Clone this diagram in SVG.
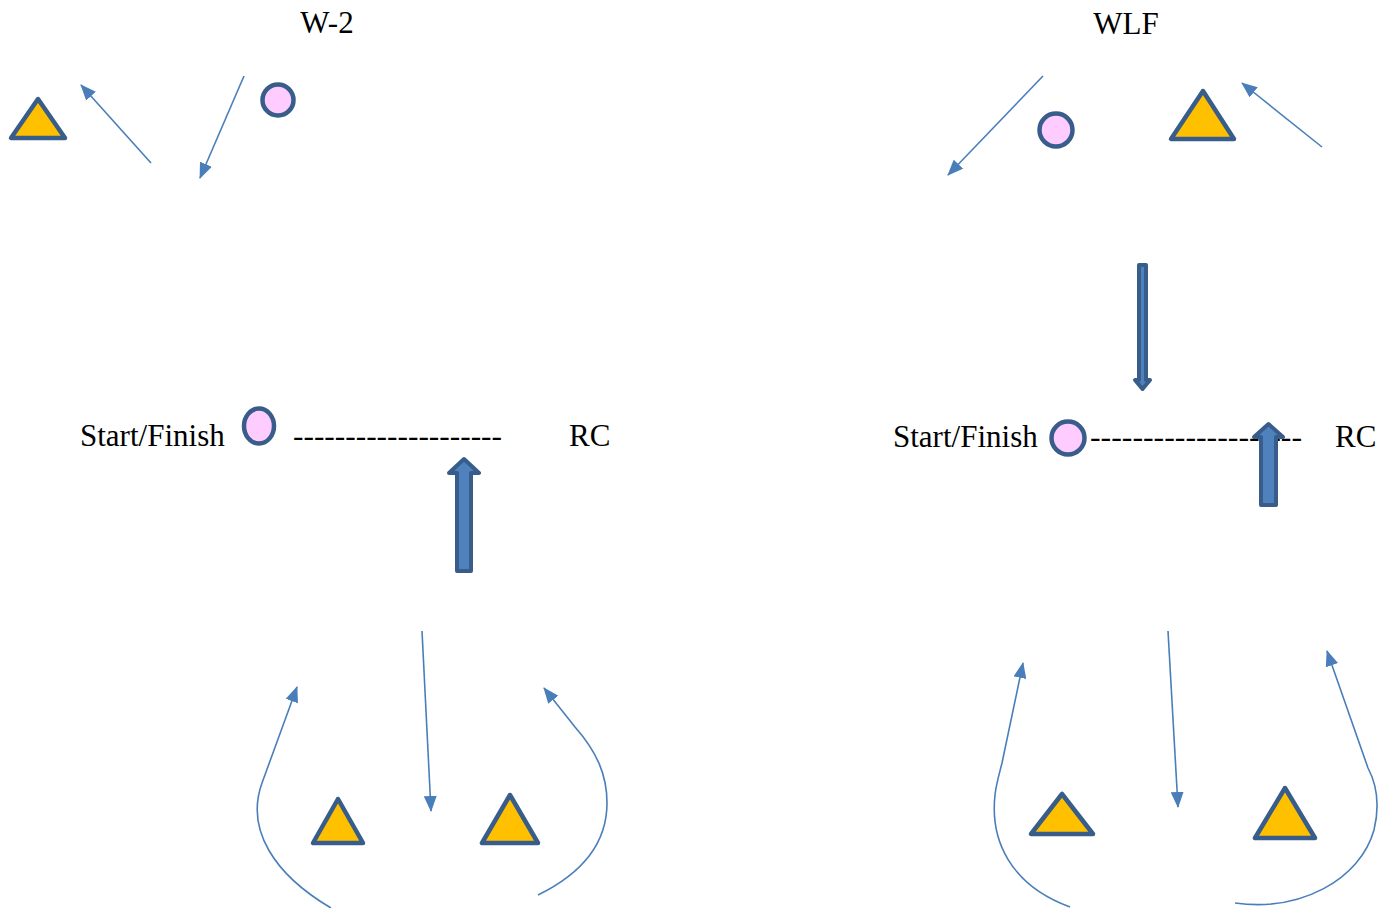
<svg xmlns="http://www.w3.org/2000/svg" width="1382" height="908" viewBox="0 0 1382 908">
<style>
.t{font-family:"Liberation Serif","Times New Roman",serif;font-size:31px;fill:#000}
.tri{fill:#FFC000;stroke:#385D8A;stroke-width:4.5;stroke-linejoin:round}
.dot{fill:#FFCCFF;stroke:#385D8A;stroke-width:4.5}
.blk{fill:#4F81BD;stroke:#385D8A;stroke-width:4;stroke-linejoin:round}
.ln{fill:none;stroke:#4A7EBB;stroke-width:1.6}
</style>
<defs>
<marker id="ah" viewBox="0 0 16 13" markerWidth="16" markerHeight="13" refX="15" refY="6.5" orient="auto" markerUnits="userSpaceOnUse">
<path d="M0,0 L16,6.5 L0,13 z" fill="#4A7EBB"/>
</marker>
</defs>
<rect width="1382" height="908" fill="#fff"/>
<g id="titles">
<text class="t" x="327" y="33" text-anchor="middle">W-2</text>
<text class="t" x="1126" y="34" text-anchor="middle">WLF</text>
</g>
<g id="labels">
<text class="t" x="80" y="446">Start/Finish</text>
<text class="t" x="293" y="446" textLength="209" lengthAdjust="spacingAndGlyphs">--------------------</text>
<text class="t" x="569" y="446">RC</text>
<text class="t" x="893" y="447">Start/Finish</text>
<text class="t" x="1090" y="447" textLength="212" lengthAdjust="spacingAndGlyphs">--------------------</text>
<text class="t" x="1335" y="447">RC</text>
</g>
<g id="tri1"><polygon class="tri" points="38,99 11,138 65,138"/></g>
<g id="tri2"><polygon class="tri" points="1203,91 1171,139 1234,139"/></g>
<g id="tri3"><polygon class="tri" points="338,799 313,843 363,843"/></g>
<g id="tri4"><polygon class="tri" points="510,795 482,843 538,843"/></g>
<g id="tri5"><polygon class="tri" points="1062,794 1031,834 1093,834"/></g>
<g id="tri6"><polygon class="tri" points="1285,788 1255,838 1315,838"/></g>
<g id="dot1"><circle class="dot" cx="278" cy="100" r="15.5" stroke-width="5"/></g>
<g id="dot2"><circle class="dot" cx="1056" cy="130" r="16.5" stroke-width="4"/></g>
<g id="dot3"><ellipse class="dot" cx="259" cy="426" rx="15" ry="17.5" stroke-width="5"/></g>
<g id="dot4"><circle class="dot" cx="1068" cy="438" r="16.5"/></g>
<g id="blockarrows">
<polygon class="blk" points="464,459 479,473 471,473 471,571 457,571 457,473 449,473"/>
<polygon class="blk" points="1268.5,424 1283,437 1276,437 1276,505 1261,505 1261,437 1254,437"/>
<polygon class="blk" points="1139,265 1146,265 1146,380 1150,380 1142.5,389 1135,380 1139,380"/>
</g>
<g id="connectors">
<line class="ln" x1="151" y1="163" x2="81" y2="85" marker-end="url(#ah)"/>
<line class="ln" x1="244" y1="76" x2="200" y2="178" marker-end="url(#ah)"/>
<line class="ln" x1="1043" y1="76" x2="948" y2="175" marker-end="url(#ah)"/>
<line class="ln" x1="1322" y1="147" x2="1242" y2="83" marker-end="url(#ah)"/>
<line class="ln" x1="422" y1="631" x2="431" y2="811" marker-end="url(#ah)"/>
<line class="ln" x1="1168" y1="631" x2="1178" y2="807" marker-end="url(#ah)"/>
<path class="ln" d="M331,908 C275,875 245,830 262,783 L297,687" marker-end="url(#ah)"/>
<path class="ln" d="M538,895 C585,872 607,840 607,803 C607,775 597,752 575,727 L544,688" marker-end="url(#ah)"/>
<path class="ln" d="M1070,907 C1010,885 990,840 995,795 C996,785 999,775 1002,763 L1023,663" marker-end="url(#ah)"/>
<path class="ln" d="M1235,903 C1300,912 1360,880 1374,830 C1380,805 1377,785 1368,768 L1327,651" marker-end="url(#ah)"/>
</g>
</svg>
